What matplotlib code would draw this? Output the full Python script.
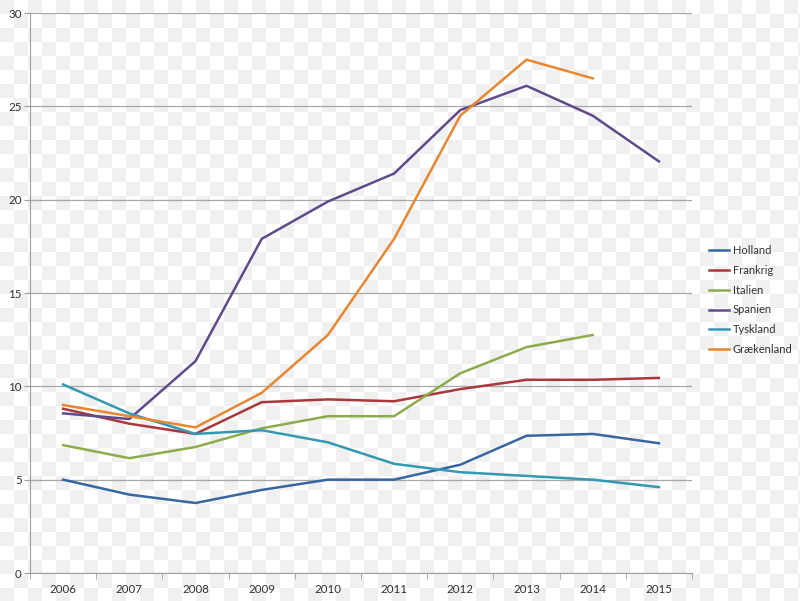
import numpy as np
import matplotlib
matplotlib.use("Agg")
import matplotlib.pyplot as plt

plt.rcParams['font.family'] = ['Lato', 'DejaVu Sans']

years = ["2006", "2007", "2008", "2009", "2010", "2011", "2012", "2013", "2014", "2015"]

holland = [5.0, 4.2, 3.75, 4.45, 5.0, 5.0, 5.8, 7.35, 7.45, 6.95]
frankrig = [8.8, 8.0, 7.45, 9.15, 9.3, 9.2, 9.85, 10.35, 10.35, 10.45]
italien = [6.85, 6.15, 6.75, 7.75, 8.4, 8.4, 10.7, 12.1, 12.75, None]
spanien = [8.55, 8.25, 11.35, 17.9, 19.9, 21.4, 24.8, 26.1, 24.5, 22.05]
tyskland = [10.1, 8.55, 7.45, 7.65, 7.0, 5.85, 5.4, 5.2, 5.0, 4.6]
graekenland = [9.0, 8.4, 7.8, 9.65, 12.75, 17.9, 24.5, 27.5, 26.5, None]

series = [
    ("Holland", holland, "#3866a0"),
    ("Frankrig", frankrig, "#a8383b"),
    ("Italien", italien, "#8eab4c"),
    ("Spanien", spanien, "#5f4b8b"),
    ("Tyskland", tyskland, "#3399b3"),
    ("Grækenland", graekenland, "#e8872f"),
]

fig = plt.figure(figsize=(8, 6.01), dpi=100)

# checkerboard backdrop
bg = fig.add_axes([0, 0, 1, 1], zorder=0)
sq = 14
ny, nx = int(np.ceil(601 / sq)), int(np.ceil(800 / sq))
checks = (np.add.outer(np.arange(ny), np.arange(nx)) % 2).astype(float)
bg.imshow(checks, cmap="gray", vmin=-15, vmax=1, extent=(0, nx * sq, ny * sq, 0),
          interpolation="nearest", aspect="auto")
bg.set_xlim(0, 800)
bg.set_ylim(601, 0)
bg.axis("off")

ax = fig.add_axes([30 / 800, 28 / 601, 662 / 800, 560 / 601], zorder=1)
ax.patch.set_alpha(0)

x = np.arange(len(years))
for name, vals, color in series:
    v = np.array([np.nan if a is None else a for a in vals], dtype=float)
    ax.plot(x, v, color=color, linewidth=1.8, label=name)

ax.set_xlim(-0.5, len(years) - 0.5)
ax.set_ylim(0, 30)
ax.set_yticks(np.arange(0, 31, 5))
ax.set_xticks(x)
ax.set_xticklabels(years)
ax.set_xticks(np.arange(-0.5, len(years), 1), minor=True)
ax.tick_params(axis="x", which="major", length=0, pad=8, labelsize=8.3, colors="#303030")
ax.tick_params(axis="x", which="minor", length=4, color="#a0a0a0", direction="out")
ax.tick_params(axis="y", length=4, colors="#a0a0a0", labelcolor="#303030", labelsize=8.3, pad=2)
ax.grid(True, axis="y", color="#a8a8a8", linewidth=0.9)
ax.set_axisbelow(True)
for s in ["top", "right"]:
    ax.spines[s].set_visible(False)
for s in ["left", "bottom"]:
    ax.spines[s].set_color("#a0a0a0")

leg = ax.legend(loc="center left", bbox_to_anchor=(1.01, 0.4875), frameon=False,
                fontsize=8, handlelength=1.85, handletextpad=0.3, labelspacing=0.8)
for t in leg.get_texts():
    t.set_color("#303030")

fig.savefig("out.png", dpi=100)
